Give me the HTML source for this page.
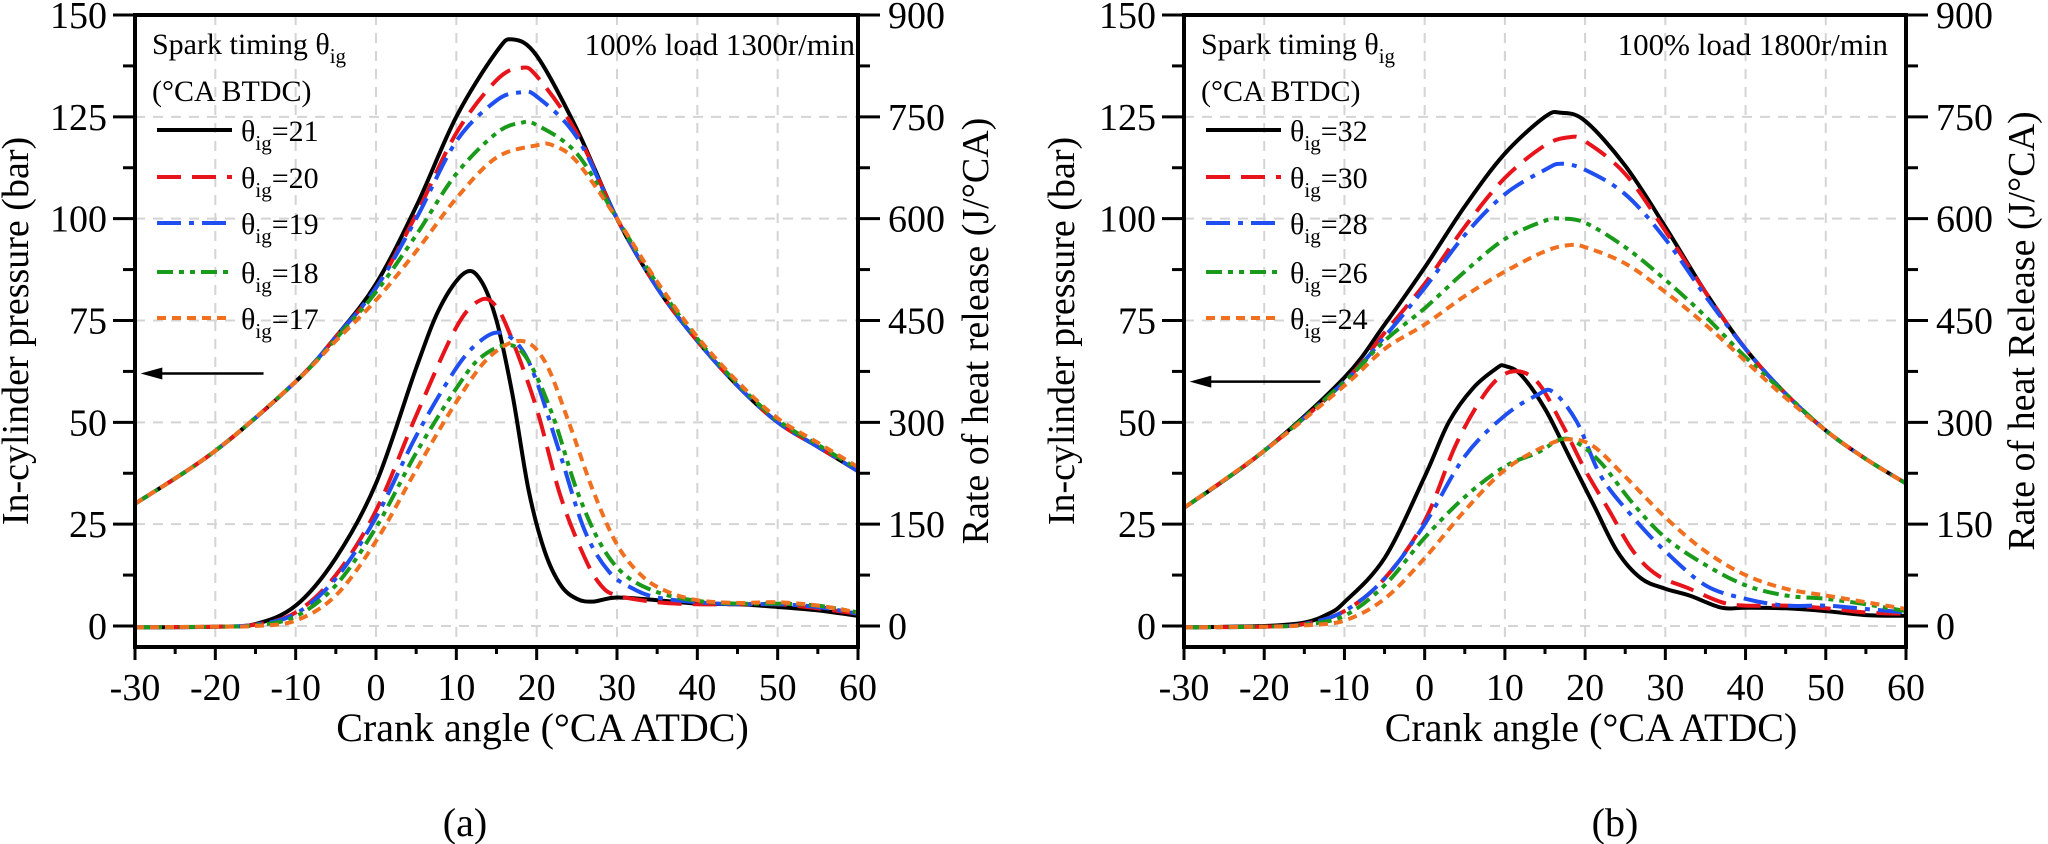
<!DOCTYPE html>
<html><head><meta charset="utf-8"><title>In-cylinder pressure and heat release</title>
<style>
html,body{margin:0;padding:0;background:#fff;}
svg{display:block;}
svg text{font-family:"Liberation Serif","DejaVu Serif",serif;}
</style></head>
<body>
<svg id="fig" width="2048" height="844" viewBox="0 0 2048 844" xmlns="http://www.w3.org/2000/svg" font-family="Liberation Serif, DejaVu Serif, serif"></svg>
<script>
// ---------- data ----------
const xTicks = [-30,-20,-10,0,10,20,30,40,50,60];
const pTicks = [0,25,50,75,100,125,150];
const hTicks = [0,150,300,450,600,750,900];
const seriesColors = ['#000000','#e8141b','#1f4ff0','#1a9a1a','#f07020'];
const seriesDash = ['', '24 11', '24 8 5 8', '16 6 5 6 5 6', '9 6'];

const labelsA = ['21','20','19','18','17'];
const labelsB = ['32','30','28','26','24'];

// Panel (a) pressure [angle, bar]
const pressA21 = [[-30,30],[-20,43],[-10,60],[-5,71],[0,84],[5,103],[10,125],[15,141],[17,144],[20,140],[25,122],[30,100],[35,83],[40,70],[45,59],[50,50],[55,44],[60,38]];
const pressA20 = [[-30,30],[-20,43],[-10,60],[-5,71],[0,83],[5,101],[10,121],[15,134],[18,137],[20,135],[25,121],[30,100],[35,83],[40,70],[45,59],[50,50],[55,44],[60,38]];
const pressA19 = [[-30,30],[-20,43],[-10,60],[-5,71],[0,83],[5,100],[10,119],[15,129],[18,131],[20,130],[25,120],[30,100],[35,83],[40,70],[45,59],[50,50],[55,44],[60,38]];
const pressA18 = [[-30,30],[-20,43],[-10,60],[-5,70.5],[0,82],[5,96],[10,111],[15,121],[18,123.5],[20,123],[25,116],[30,100],[35,84],[40,70.5],[45,59.5],[50,50.5],[55,44.5],[60,38.5]];
const pressA17 = [[-30,30],[-20,43],[-10,60],[-5,70],[0,80],[5,92],[10,105],[15,115],[20,118],[22,118],[25,114],[30,100],[35,84.5],[40,71],[45,60],[50,51],[55,45],[60,39]];
// Panel (a) heat release [angle, J/°CA]
const hrrA21 = [[-30,-2],[-20,-1],[-15,3],[-10,30],[-5,100],[0,210],[5,380],[8,470],[11,520],[13,510],[15,450],[17,340],[19,200],[21,110],[23,60],[25,40],[27,36],[30,42],[35,38],[40,33],[45,32],[50,28],[55,23],[60,15]];
const hrrA20 = [[-30,-2],[-20,-1],[-15,2],[-10,20],[-5,75],[0,170],[5,310],[10,440],[13,480],[15,470],[17,420],[20,320],[23,190],[26,100],[28,60],[30,45],[35,35],[40,32],[45,32],[50,32],[55,26],[60,18]];
const hrrA19 = [[-30,-2],[-20,-1],[-15,2],[-10,18],[-5,70],[0,160],[5,280],[10,380],[13,420],[15.5,432],[18,410],[20,360],[23,250],[26,140],[29,80],[32,55],[35,42],[40,35],[45,32],[50,32],[55,28],[60,18]];
const hrrA18 = [[-30,-2],[-20,-1],[-15,1],[-10,14],[-5,60],[0,145],[5,255],[10,350],[13,395],[16.5,414],[19,390],[22,310],[25,200],[28,120],[31,75],[35,50],[40,37],[45,33],[50,33],[55,30],[60,20]];
const hrrA17 = [[-30,-2],[-20,-1],[-15,0],[-10,8],[-5,45],[0,125],[5,230],[10,330],[14,395],[18,420],[21,390],[24,300],[27,200],[30,120],[33,75],[36,52],[40,38],[45,34],[50,35],[55,30],[60,20]];

// Panel (b) pressure
const pressB32 = [[-30,29],[-20,43],[-10,61],[-5,74],[0,88],[5,103],[10,116],[15,125],[17,126],[20,124],[25,113],[30,98],[35,82],[40,68],[45,57],[50,48],[55,41],[60,35]];
const pressB30 = [[-30,29],[-20,43],[-10,60],[-5,72],[0,84],[5,98],[10,110],[15,118],[18,120],[20,119],[25,111],[30,97],[35,82],[40,68],[45,57],[50,48],[55,41],[60,35]];
const pressB28 = [[-30,29],[-20,43],[-10,60],[-5,71],[0,83],[5,96],[10,106],[15,112],[17,113.5],[20,112],[25,106],[30,95],[35,81],[40,68],[45,57],[50,48],[55,41],[60,35]];
const pressB26 = [[-30,29],[-20,43],[-10,60],[-5,70],[0,78],[5,87],[10,95],[15,99.5],[17,100],[20,99],[25,93],[30,85],[35,76],[40,66],[45,57],[50,48],[55,41],[60,35]];
const pressB24 = [[-30,29],[-20,43],[-10,59],[-5,68],[0,74],[5,81],[10,87],[15,92],[18,93.5],[20,93],[25,89],[30,82],[35,74],[40,65],[45,56],[50,48],[55,41],[60,35]];
// Panel (b) heat release
const hrrB32 = [[-30,-2],[-20,0],[-15,5],[-12,18],[-10,35],[-5,100],[0,220],[3,300],[6,350],[9,380],[10,383],[12,370],[15,320],[18,250],[21,180],[24,110],[27,70],[30,55],[33,45],[37,27],[40,27],[45,26],[50,22],[55,16],[60,15]];
const hrrB30 = [[-30,-2],[-20,-1],[-15,3],[-10,22],[-5,70],[0,155],[4,270],[8,350],[11,375],[14,360],[17,300],[20,230],[23,170],[26,110],[29,75],[33,55],[37,35],[40,30],[45,30],[50,26],[55,20],[60,18]];
const hrrB28 = [[-30,-2],[-20,-1],[-15,3],[-10,22],[-5,70],[0,150],[5,250],[10,310],[14,340],[16,345],[19,300],[22,220],[26,160],[30,110],[35,60],[40,40],[45,30],[50,30],[55,25],[60,20]];
const hrrB26 = [[-30,-2],[-20,-1],[-15,2],[-10,15],[-5,60],[0,130],[5,190],[10,235],[14,255],[17,275],[19,270],[22,240],[26,180],[30,130],[35,90],[40,60],[45,45],[50,40],[55,32],[60,22]];
const hrrB24 = [[-30,-2],[-20,-1],[-15,1],[-10,8],[-5,40],[0,100],[5,170],[10,230],[15,265],[18,275],[21,265],[25,220],[30,160],[35,110],[40,75],[45,55],[50,45],[55,35],[60,25]];

const NS = 'http://www.w3.org/2000/svg';
const svg = document.getElementById('fig');
const FONT = '"Liberation Serif", "DejaVu Serif", serif';
function el(tag, attrs, parent){
  const e = document.createElementNS(NS, tag);
  for (const k in attrs) e.setAttribute(k, attrs[k]);
  if (tag === 'text') e.style.fontFamily = FONT;
  (parent||svg).appendChild(e);
  return e;
}
function smoothPath(pts){
  let d = 'M'+pts[0][0].toFixed(1)+','+pts[0][1].toFixed(1);
  for (let i=0;i<pts.length-1;i++){
    const p0=pts[Math.max(0,i-1)], p1=pts[i], p2=pts[i+1], p3=pts[Math.min(pts.length-1,i+2)];
    const c1x=p1[0]+(p2[0]-p0[0])/6, c1y=p1[1]+(p2[1]-p0[1])/6;
    const c2x=p2[0]-(p3[0]-p1[0])/6, c2y=p2[1]-(p3[1]-p1[1])/6;
    d+=' C'+c1x.toFixed(1)+','+c1y.toFixed(1)+' '+c2x.toFixed(1)+','+c2y.toFixed(1)+' '+p2[0].toFixed(1)+','+p2[1].toFixed(1);
  }
  return d;
}

function panel(cfg){
  const X0=cfg.x0, X1=cfg.x1, YT=15, Y0=626, YB=647;
  const xs = v => X0 + (v+30)/90*(X1-X0);
  const ys = v => Y0 - v*(Y0-YT)/150;
  const yh = v => ys(v/6);
  const g = el('g', {});
  
  
  const cid = 'clip-'+cfg.name;
  const cp = el('clipPath', {id:cid}, g);
  el('rect', {x:X0, y:YT, width:X1-X0, height:YB-YT}, cp);

  const grid = el('g', {stroke:'#d4d4d4','stroke-width':2,'stroke-dasharray':'10 8'}, g);
  
  
  xTicks.slice(1,-1).forEach(v => el('line',{x1:xs(v),x2:xs(v),y1:YT,y2:YB},grid));
  pTicks.slice(0,-1).forEach(v => el('line',{x1:X0,x2:X1,y1:ys(v),y2:ys(v)},grid));

  const sg = el('g', {'clip-path':'url(#'+cid+')', fill:'none','stroke-width':4,'stroke-linejoin':'round'}, g);
  cfg.press.forEach((s,i) => {
    const p = el('path', {d:smoothPath(s.map(q=>[xs(q[0]),ys(q[1])])), stroke:seriesColors[i]}, sg);
    if (seriesDash[i]) p.setAttribute('stroke-dasharray', seriesDash[i]);
    
    
  });
  cfg.hrr.forEach((s,i) => {
    const p = el('path', {d:smoothPath(s.map(q=>[xs(q[0]),yh(q[1])])), stroke:seriesColors[i]}, sg);
    if (seriesDash[i]) p.setAttribute('stroke-dasharray', seriesDash[i]);
    
    
  });

  const fr = el('rect', {x:X0, y:YT, width:X1-X0, height:YB-YT, fill:'none', stroke:'#000','stroke-width':4}, g);
  
  

  const xa = el('g', {stroke:'#000','stroke-width':3}, g);
  
  
  for (let v=-30; v<=60; v+=5){
    const major = v%10===0;
    el('line',{x1:xs(v),x2:xs(v),y1:YB,y2:YB+(major?13:7)},xa);
  }
  xTicks.forEach(v => {
    const t = el('text',{x:xs(v),y:700,'font-size':38,'text-anchor':'middle',fill:'#000',stroke:'none'},g);
    t.textContent = String(v);
    
    
  });
  for (let v=0; v<=150; v+=12.5){
    const major = v%25===0;
    el('line',{x1:X0-(major?22:12),x2:X0,y1:ys(v),y2:ys(v)},xa);
    el('line',{x1:X1,x2:X1+(major?22:12),y1:ys(v),y2:ys(v)},xa);
  }
  pTicks.forEach(v => {
    const t = el('text',{x:X0-28,y:ys(v)+13,'font-size':38,'text-anchor':'end',fill:'#000'},g);
    t.textContent = String(v);
    
    
  });
  hTicks.forEach(v => {
    const t = el('text',{x:X1+30,y:yh(v)+13,'font-size':38,'text-anchor':'start',fill:'#000'},g);
    t.textContent = String(v);
    
    
  });

  const xt = el('text',{x:(X0+X1)/2+46,y:741,'font-size':40,'text-anchor':'middle',fill:'#000'},g);
  xt.textContent = 'Crank angle (°CA ATDC)';
  
  
  const lt = el('text',{x:0,y:0,'font-size':38,'text-anchor':'middle',fill:'#000',transform:'translate('+(cfg.ltx)+',331) rotate(-90)'},g);
  lt.textContent = 'In-cylinder pressure (bar)';
  
  
  const rt = el('text',{x:0,y:0,'font-size':38,'text-anchor':'middle',fill:'#000',transform:'translate('+(cfg.rtx)+',331) rotate(-90)'},g);
  rt.textContent = cfg.rtitle;
  
  

  const pl = el('text',{x:cfg.labx,y:836,'font-size':40,'text-anchor':'middle',fill:'#000'},g);
  pl.textContent = cfg.tag;
  
  

  const an = el('text',{x:X1-cfg.annOff,y:55,'font-size':31,'text-anchor':'end',fill:'#000'},g);
  an.textContent = cfg.ann;
  
  

  const lg = el('g', {}, g);
  
  
  const lx = X0+17;
  const t1 = el('text',{x:lx,y:54,'font-size':30,fill:'#000'},lg);
  t1.innerHTML = 'Spark timing θ<tspan font-size="21" dy="9">ig</tspan>';
  
  
  const t2 = el('text',{x:lx,y:101,'font-size':30,fill:'#000'},lg);
  t2.textContent = '(°CA BTDC)';
  
  
  const rows = [130,177,223,272,318];
  cfg.labels.forEach((lab,i) => {
    const e = el('g', {}, lg);
    
    
    const ln = el('line',{x1:lx+5,x2:lx+80,y1:rows[i],y2:rows[i],stroke:seriesColors[i],'stroke-width':4},e);
    if (seriesDash[i]) ln.setAttribute('stroke-dasharray', seriesDash[i]);
    const tx = el('text',{x:lx+89,y:rows[i]+11,'font-size':30,fill:'#000'},e);
    tx.innerHTML = 'θ<tspan font-size="21" dy="9">ig</tspan><tspan dy="-9">='+lab+'</tspan>';
  });

  const ar = el('g', {}, g);
  
  
  const ay = ys(cfg.arrowP);
  el('line',{x1:xs(cfg.arrowFrom),x2:xs(-27.5),y1:ay,y2:ay,stroke:'#000','stroke-width':2.5},ar);
  el('polygon',{points:(xs(-29.3))+','+ay+' '+(xs(-26.6))+','+(ay-6)+' '+(xs(-26.6))+','+(ay+6),fill:'#000'},ar);
}

panel({name:'panel-a', x0:135, x1:858, labels:labelsA,
  press:[pressA21,pressA20,pressA19,pressA18,pressA17],
  hrr:[hrrA21,hrrA20,hrrA19,hrrA18,hrrA17],
  ltx:28, rtx:988, rtitle:'Rate of heat release (J/°CA)', tag:'(a)', labx:465,
  ann:'100% load 1300r/min', annOff:3, arrowP:62, arrowFrom:-14});
panel({name:'panel-b', x0:1184, x1:1906, labels:labelsB,
  press:[pressB32,pressB30,pressB28,pressB26,pressB24],
  hrr:[hrrB32,hrrB30,hrrB28,hrrB26,hrrB24],
  ltx:1074, rtx:2034, rtitle:'Rate of heat Release (J/°CA)', tag:'(b)', labx:1615,
  ann:'100% load 1800r/min', annOff:18, arrowP:60, arrowFrom:-13});
</script>
</body></html>
